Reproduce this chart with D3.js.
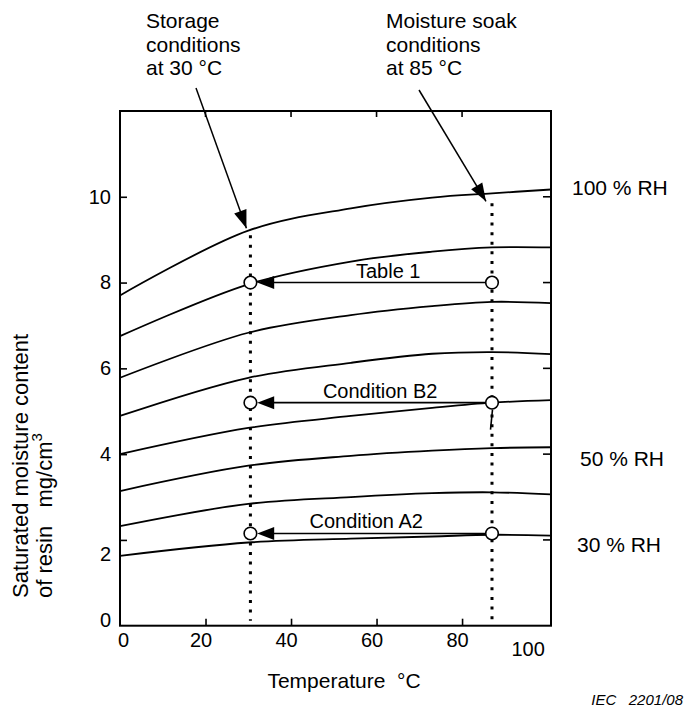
<!DOCTYPE html>
<html>
<head>
<meta charset="utf-8">
<script src="https://cdn.jsdelivr.net/npm/d3@7"></script>
<style>
  body { margin: 0; background: #fff; }
  svg { display: block; font-family: "Liberation Sans", Arial, sans-serif; }
  text { fill: #000; }
</style>
</head>
<body>
<div id="chart"></div>
<script>
// temperatures (°C) where the curves were read
const temps = [0, 30, 54, 73, 87, 100.8];

// saturated moisture content (mg/cm3), one row per RH curve, top to bottom
const curve1 = [7.70, 9.21, 9.73, 9.98, 10.08, 10.17];
const curve2 = [6.75, 7.96, 8.49, 8.72, 8.82, 8.82];
const curve3 = [5.78, 6.83, 7.24, 7.45, 7.55, 7.52];
const curve4 = [4.89, 5.78, 6.13, 6.34, 6.38, 6.33];
const curve5 = [4.00, 4.61, 4.89, 5.08, 5.20, 5.26];
const curve6 = [3.14, 3.73, 3.96, 4.08, 4.14, 4.16];
const curve7 = [2.32, 2.84, 3.00, 3.09, 3.11, 3.06];
const curve8 = [1.63, 1.94, 2.03, 2.08, 2.12, 2.10];
const curves = [curve1, curve2, curve3, curve4, curve5, curve6, curve7, curve8];

// RH labels on the right, attached to curve index
const rhLabels = ['100 % RH', '50 % RH', '30 % RH'];
const rhCurve = [0, 5, 7];

// storage / soak temperatures as placed on the figure
const storageTemp = 30.5;
const soakTemp = 87;

// condition transfer arrows
const conditions = ['Table 1', 'Condition B2', 'Condition A2'];
const conditionValues = [8.0, 5.2, 2.15];

const xTicks = [0, 20, 40, 60, 80, 100];
const yTicks = [0, 2, 4, 6, 8, 10];

const W = 688, H = 709;
const plot = { left: 120, right: 551, top: 111, bottom: 625.7 };

const x = d3.scaleLinear().domain([0, 100.8]).range([plot.left, plot.right]);
const y = d3.scaleLinear().domain([0, 12]).range([plot.bottom, plot.top]);

const svg = d3.select('#chart').append('svg')
  .attr('width', W)
  .attr('height', H);

// frame
svg.append('rect')
  .attr('x', plot.left).attr('y', plot.top)
  .attr('width', plot.right - plot.left)
  .attr('height', plot.bottom - plot.top)
  .attr('fill', 'none').attr('stroke', '#000').attr('stroke-width', 2);

// axes with inward ticks
const yAxis = svg.append('g')
  .attr('transform', `translate(${plot.left},0)`)
  .call(d3.axisLeft(y).tickValues(yTicks).tickSize(-7).tickPadding(9));
const xAxis = svg.append('g')
  .attr('transform', `translate(0,${plot.bottom})`)
  .call(d3.axisBottom(x).tickValues(xTicks).tickSize(-7).tickPadding(7));

[xAxis, yAxis].forEach(a => {
  a.select('.domain').remove();
  a.selectAll('.tick line').attr('stroke', '#000').attr('stroke-width', 1.6);
  a.selectAll('.tick text')
    .attr('font-size', 20)
    .attr('font-family', '"Liberation Sans", Arial, sans-serif')
    .attr('fill', '#000');
});
yAxis.selectAll('.tick').filter(d => d === 0).select('line').remove();
xAxis.selectAll('.tick').filter(d => d === 0 || d === 100).select('line').remove();
// label placement quirks of the original drawing
yAxis.selectAll('.tick text').attr('dy', d => d === 2 ? '1.05em' : d === 0 ? '0.05em' : '0.32em');
xAxis.selectAll('.tick text')
  .attr('dx', d => d === 0 ? 3 : d === 100 ? -20 : -5)
  .attr('dy', d => d === 100 ? '1.15em' : '0.71em');

// mirrored ticks on top and right
svg.append('g').selectAll('line')
  .data([20, 40, 60, 80])
  .join('line')
  .attr('x1', d => x(d)).attr('x2', d => x(d))
  .attr('y1', plot.top).attr('y2', plot.top + 6)
  .attr('stroke', '#000').attr('stroke-width', 1.6);
svg.append('g').selectAll('line')
  .data(yTicks.filter(d => d > 0))
  .join('line')
  .attr('x1', plot.right).attr('x2', plot.right - 8)
  .attr('y1', d => y(d)).attr('y2', d => y(d))
  .attr('stroke', '#000').attr('stroke-width', 1.6);

// RH curves
const line = d3.line()
  .x((d, i) => x(temps[i]))
  .y(d => y(d))
  .curve(d3.curveCatmullRom.alpha(0.5));

svg.append('g').selectAll('path')
  .data(curves)
  .join('path')
  .attr('d', line)
  .attr('fill', 'none')
  .attr('stroke', '#000')
  .attr('stroke-width', 1.8);

// piecewise reading of a curve at a temperature
const at = (c, t) => d3.scaleLinear().domain(temps).range(c)(t);

// dotted verticals at storage and soak temperature
const verticals = [
  { t: storageTemp, gap: 5 },
  { t: soakTemp, gap: 10 }
];
svg.append('g').selectAll('line')
  .data(verticals)
  .join('line')
  .attr('x1', d => x(d.t)).attr('x2', d => x(d.t))
  .attr('y1', d => y(at(curve1, d.t)) + d.gap)
  .attr('y2', plot.bottom - 5)
  .attr('stroke', '#000')
  .attr('stroke-width', 3)
  .attr('stroke-dasharray', '3 6.6');

// short solid dash under the B2 soak point
svg.append('line')
  .attr('x1', x(soakTemp) + 0.5).attr('y1', y(conditionValues[1]) + 7)
  .attr('x2', x(soakTemp) - 1.5).attr('y2', y(conditionValues[1]) + 27)
  .attr('stroke', '#000').attr('stroke-width', 1.6);

function arrowHead(g, x1, y1, x2, y2, len, half) {
  const a = Math.atan2(y2 - y1, x2 - x1);
  const bx = x2 - len * Math.cos(a), by = y2 - len * Math.sin(a);
  const px = -Math.sin(a) * half, py = Math.cos(a) * half;
  g.append('path')
    .attr('d', `M${x2},${y2}L${bx + px},${by + py}L${bx - px},${by - py}Z`)
    .attr('fill', '#000');
}

// transfer arrows between soak and storage points
const r = 6.3;
const labelShift = [17, 9, -5];
const cond = svg.append('g');
conditions.forEach((name, i) => {
  const yy = y(conditionValues[i]);
  const xs = x(storageTemp), xk = x(soakTemp);
  cond.append('line')
    .attr('x1', xk - r).attr('y1', yy)
    .attr('x2', xs + r + 10).attr('y2', yy)
    .attr('stroke', '#000').attr('stroke-width', 1.6);
  arrowHead(cond, xk, yy, xs + r + 0.5, yy, 17, 6.5);
  cond.selectAll(null)
    .data([xs, xk])
    .join('circle')
    .attr('cx', d => d).attr('cy', yy).attr('r', r)
    .attr('fill', '#fff').attr('stroke', '#000').attr('stroke-width', 1.6);
  cond.append('text')
    .attr('x', (xs + xk) / 2 + labelShift[i])
    .attr('y', yy - 5)
    .attr('text-anchor', 'middle')
    .attr('font-size', 20)
    .text(name);
});

// RH labels
const rhShift = [6, 19, 16];
svg.append('g').selectAll('text')
  .data(rhLabels)
  .join('text')
  .attr('x', (d, i) => i === 0 ? 572 : i === 1 ? 580 : 577)
  .attr('y', (d, i) => y(curves[rhCurve[i]][temps.length - 1]) + rhShift[i])
  .attr('font-size', 21)
  .text(d => d);

// top annotations
const notes = [
  { lines: ['Storage', 'conditions', 'at 30 °C'], x: 146, from: [196, 88],
    to: [x(storageTemp) - 4, y(at(curve1, storageTemp)) - 2] },
  { lines: ['Moisture soak', 'conditions', 'at 85 °C'], x: 386, from: [419, 90],
    to: [x(soakTemp) - 6, y(at(curve1, soakTemp)) + 8] }
];
const ann = svg.append('g');
notes.forEach(n => {
  ann.append('text')
    .attr('font-size', 21)
    .selectAll('tspan')
    .data(n.lines)
    .join('tspan')
    .attr('x', n.x)
    .attr('y', (d, i) => 28 + i * 23.5)
    .text(d => d);
  ann.append('line')
    .attr('x1', n.from[0]).attr('y1', n.from[1])
    .attr('x2', n.to[0]).attr('y2', n.to[1])
    .attr('stroke', '#000').attr('stroke-width', 1.5);
  arrowHead(ann, n.from[0], n.from[1], n.to[0], n.to[1], 18, 6.5);
});

// axis titles
svg.append('text')
  .attr('x', 344)
  .attr('y', 688)
  .attr('text-anchor', 'middle')
  .attr('font-size', 21)
  .style('white-space', 'pre')
  .text('Temperature  °C');

const yTitle = svg.append('text')
  .attr('transform', 'rotate(-90)')
  .attr('font-size', 22)
  .style('white-space', 'pre');
yTitle.append('tspan')
  .attr('x', -598).attr('y', 28)
  .text('Saturated moisture content');
yTitle.append('tspan')
  .attr('x', -598).attr('y', 52)
  .text('of resin   mg/cm');
yTitle.append('tspan')
  .attr('dy', -10).attr('font-size', 15)
  .text('3');

svg.append('text')
  .attr('x', 683).attr('y', 705)
  .attr('text-anchor', 'end')
  .attr('font-size', 15)
  .attr('font-style', 'italic')
  .style('white-space', 'pre')
  .text('IEC   2201/08');
</script>
</body>
</html>
